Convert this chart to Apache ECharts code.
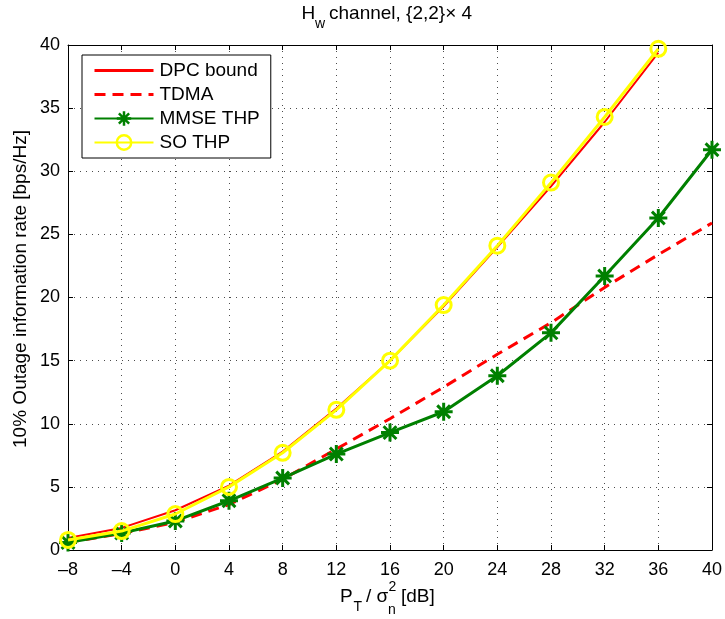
<!DOCTYPE html>
<html><head><meta charset="utf-8">
<script src="https://cdn.jsdelivr.net/npm/echarts@6/dist/echarts.min.js"></script>
<style>html,body{margin:0;padding:0;background:#fff}#c{width:725px;height:619px}</style>
</head><body><div id="c"></div>
<script>
var xAll = [-8, -4, 0, 4, 8, 12, 16, 20, 24, 28, 32, 36, 40];
var dpc = [0.95, 1.75, 3.15, 5.1, 7.8, 11.2, 15.0, 19.3, 24.0, 28.8, 33.9, 39.4];
var tdma = [0.6, 1.3, 2.2, 3.6, 5.6, 8.0, 10.4, 12.9, 15.5, 18.0, 20.8, 23.4, 25.9];
var mmse = [0.6, 1.35, 2.3, 3.9, 5.7, 7.6, 9.3, 10.95, 13.8, 17.2, 21.7, 26.3, 31.7];
var soThp = [0.8, 1.5, 2.85, 5.0, 7.7, 11.1, 15.0, 19.4, 24.1, 29.1, 34.3, 39.7];
var xTicks = [-8, -4, 0, 4, 8, 12, 16, 20, 24, 28, 32, 36, 40];
var yTicks = [0, 5, 10, 15, 20, 25, 30, 35, 40];
var seriesNames = ['DPC bound', 'TDMA', 'MMSE THP', 'SO THP'];

function pairs(ys) { return ys.map(function (v, i) { return [xAll[i], v]; }); }

var FONT = 'Liberation Sans';
var chart = echarts.init(document.getElementById('c'));
var gridLine = { show: true, lineStyle: { color: '#000', type: [1, 5], width: 1, opacity: 0.7 } };
var asterisk = 'path://M0,-10L0,10M-10,0L10,0M-7.1,-7.1L7.1,7.1M-7.1,7.1L7.1,-7.1';
function txt(s, x, y, size) {
  return { type: 'text', x: x, y: y, silent: true,
    style: { text: s, fontSize: size, fontFamily: FONT, fill: '#000', align: 'left', verticalAlign: 'middle' } };
}

chart.setOption({
  animation: false,
  backgroundColor: '#fff',
  textStyle: { fontFamily: FONT },
  grid: { left: 68, right: 13, top: 45, bottom: 69, containLabel: false },
  legend: {
    orient: 'vertical', left: 82, top: 55,
    backgroundColor: '#fff', borderColor: '#000', borderWidth: 1, borderRadius: 0,
    padding: [6, 11, 6, 11],
    itemWidth: 59, itemHeight: 18, itemGap: 5,
    textStyle: { fontSize: 19, color: '#000', fontFamily: FONT, padding: [0, 0, 0, 1] },
    data: [
      { name: seriesNames[0], itemStyle: { opacity: 0 }, lineStyle: { width: 3 } },
      { name: seriesNames[1], itemStyle: { opacity: 0 }, lineStyle: { width: 3 } },
      { name: seriesNames[2], itemStyle: { borderWidth: 2.5 } },
      { name: seriesNames[3], itemStyle: { borderWidth: 2.5 } }
    ]
  },
  graphic: [
    txt('H', 301.5, 13.4, 19),
    txt('w', 315, 24.5, 14),
    txt('channel, {2,2}\u00d7 4', 329, 13.4, 19),
    txt('P', 340, 596.5, 19),
    txt('T', 353.5, 607.5, 14),
    txt('/ \u03c3', 366, 596.5, 19),
    txt('2', 388.5, 587, 14),
    txt('n', 388, 610, 14),
    txt('[dB]', 401, 596.5, 19),
    { type: 'text', x: 21, y: 289, rotation: Math.PI / 2, silent: true,
      style: { text: '10% Outage information rate [bps/Hz]', fontSize: 19, fontFamily: FONT, fill: '#000', align: 'center', verticalAlign: 'middle' } }
  ],
  xAxis: [{
    type: 'value', min: -8, max: 40, interval: 4,
    axisLine: { onZero: false, lineStyle: { color: '#000', width: 1 } },
    axisTick: { inside: true, length: 5, lineStyle: { color: '#000' } },
    axisLabel: { color: '#000', fontSize: 18, margin: 11, fontFamily: FONT,
      formatter: function (v) { return xTicks.indexOf(v) >= 0 ? String(v).replace('-', '\u2013') : ''; } },
    splitLine: gridLine
  }, {
    type: 'value', min: -8, max: 40, interval: 4, position: 'top',
    axisLine: { show: true, onZero: false, lineStyle: { color: '#000', width: 1 } },
    axisTick: { inside: true, length: 5, lineStyle: { color: '#000' } },
    axisLabel: { show: false }, splitLine: { show: false }
  }],
  yAxis: [{
    type: 'value', min: 0, max: 40, interval: 5,
    axisLine: { show: true, onZero: false, lineStyle: { color: '#000', width: 1 } },
    axisTick: { show: true, inside: true, length: 5, lineStyle: { color: '#000' } },
    axisLabel: { color: '#000', fontSize: 18, margin: 8, fontFamily: FONT,
      formatter: function (v) { return yTicks.indexOf(v) >= 0 ? String(v) : ''; } },
    splitLine: gridLine
  }, {
    type: 'value', min: 0, max: 40, interval: 5, position: 'right',
    axisLine: { show: true, onZero: false, lineStyle: { color: '#000', width: 1 } },
    axisTick: { show: true, inside: true, length: 5, lineStyle: { color: '#000' } },
    axisLabel: { show: false }, splitLine: { show: false }
  }],
  series: [
    { name: seriesNames[0], type: 'line', data: pairs(dpc), showSymbol: false, symbol: 'none',
      lineStyle: { color: '#ff0000', width: 2 }, itemStyle: { color: '#ff0000' }, z: 2 },
    { name: seriesNames[1], type: 'line', data: pairs(tdma), showSymbol: false, symbol: 'none',
      lineStyle: { color: '#ff0000', width: 3, type: [11, 7] }, itemStyle: { color: '#ff0000' }, z: 2 },
    { name: seriesNames[2], type: 'line', data: pairs(mmse), symbol: asterisk, symbolSize: 18,
      lineStyle: { color: '#008000', width: 3 },
      itemStyle: { color: '#008000', borderColor: '#008000', borderWidth: 3 }, z: 3 },
    { name: seriesNames[3], type: 'line', data: pairs(soThp), symbol: 'circle', symbolSize: 15,
      lineStyle: { color: '#ffff00', width: 3 },
      itemStyle: { color: 'rgba(255,255,255,0)', borderColor: '#ffff00', borderWidth: 3 }, z: 4 }
  ]
});
</script></body></html>
